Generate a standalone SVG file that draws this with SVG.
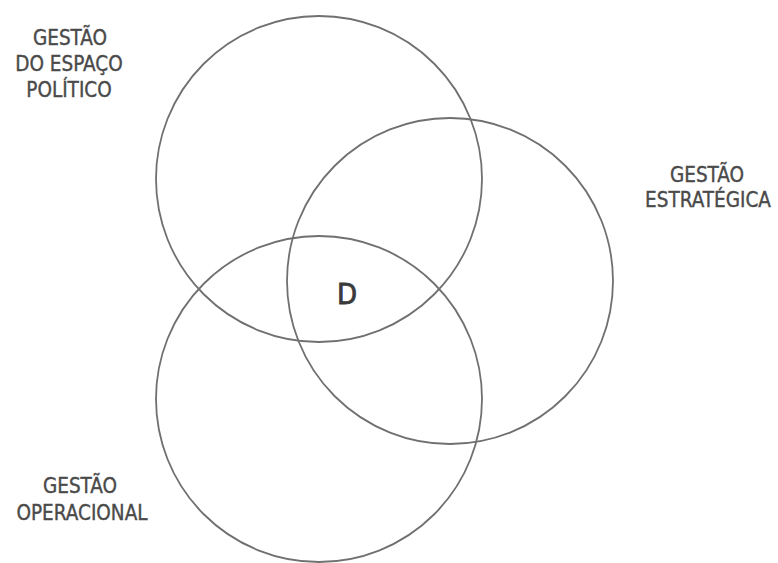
<svg xmlns="http://www.w3.org/2000/svg" width="778" height="563" viewBox="0 0 778 563">
<style>
.c{fill:none;stroke:#707070;stroke-width:1.8}
.t{font-family:"DejaVu Sans Condensed","DejaVu Sans",sans-serif;font-stretch:condensed;font-size:20.5px;fill:#4a4a4a;stroke:#4a4a4a;stroke-width:0.35;text-anchor:middle}
.d{font-family:"DejaVu Sans Condensed","DejaVu Sans",sans-serif;font-stretch:condensed;font-size:29px;fill:#3a3a3a;stroke:#3a3a3a;stroke-width:0.8;text-anchor:middle}
</style>
<rect width="778" height="563" fill="#fff"/>
<g id="circles">
<circle id="c-politico" class="c" cx="319" cy="179" r="163"/>
<circle id="c-estrategica" class="c" cx="450" cy="281" r="163"/>
<circle id="c-operacional" class="c" cx="319" cy="399" r="163"/>
</g>
<g id="label-politico">
<text class="t" x="70" y="45">GESTÃO</text>
<text class="t" x="69" y="71">DO ESPAÇO</text>
<text class="t" x="69" y="97">POLÍTICO</text>
</g>
<g id="label-estrategica">
<text class="t" x="707" y="182">GESTÃO</text>
<text class="t" x="708" y="207">ESTRATÉGICA</text>
</g>
<g id="label-operacional">
<text class="t" x="80" y="493">GESTÃO</text>
<text class="t" x="82" y="520">OPERACIONAL</text>
</g>
<g id="center">
<text class="d" x="347" y="304">D</text>
</g>
</svg>
